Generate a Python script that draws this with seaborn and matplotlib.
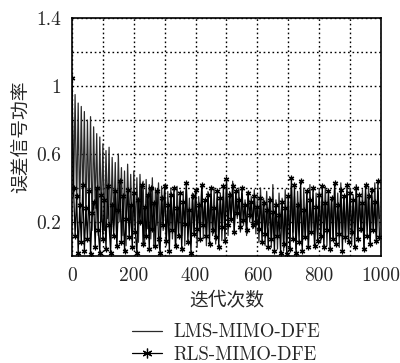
import numpy as np
import pandas as pd
import matplotlib
matplotlib.use('Agg')
import matplotlib.pyplot as plt
import seaborn as sns

sns.set_style('ticks')
plt.rcParams['font.family'] = ['cmr10', 'Noto Sans CJK SC']
plt.rcParams['axes.unicode_minus'] = False

# iterations (every 5th sample)
iters = list(range(0, 1000, 5))

# error signal power, LMS-MIMO-DFE
lms = [
    0.98, 0.35, 0.95, 0.28, 0.90, 0.22, 0.88, 0.30, 0.85, 0.18, 0.80, 0.25, 0.82, 0.15, 0.76, 0.28, 0.72, 0.12, 0.70, 0.20,
    0.66, 0.15, 0.62, 0.22, 0.64, 0.10, 0.58, 0.18, 0.55, 0.08, 0.60, 0.20, 0.52, 0.12, 0.50, 0.06, 0.54, 0.18, 0.48, 0.10,
    0.50, 0.14, 0.46, 0.08, 0.48, 0.20, 0.44, 0.06, 0.45, 0.16, 0.42, 0.10, 0.46, 0.05, 0.40, 0.18, 0.43, 0.08, 0.41, 0.15,
    0.42, 0.06, 0.38, 0.18, 0.40, 0.10, 0.36, 0.05, 0.41, 0.20, 0.35, 0.12, 0.38, 0.06, 0.40, 0.16, 0.34, 0.08, 0.37, 0.14,
    0.39, 0.05, 0.35, 0.17, 0.42, 0.10, 0.33, 0.06, 0.38, 0.20, 0.36, 0.12, 0.40, 0.07, 0.34, 0.18, 0.37, 0.09, 0.35, 0.15,
    0.41, 0.12, 0.38, 0.20, 0.44, 0.15, 0.36, 0.22, 0.40, 0.14, 0.37, 0.18, 0.33, 0.12, 0.38, 0.20, 0.35, 0.16, 0.39, 0.13,
    0.36, 0.08, 0.40, 0.15, 0.34, 0.06, 0.38, 0.18, 0.35, 0.05, 0.42, 0.12, 0.33, 0.04, 0.37, 0.16, 0.34, 0.03, 0.39, 0.10,
    0.36, 0.05, 0.41, 0.14, 0.35, 0.04, 0.38, 0.17, 0.33, 0.06, 0.40, 0.10, 0.36, 0.05, 0.42, 0.15, 0.34, 0.07, 0.37, 0.12,
    0.39, 0.08, 0.35, 0.16, 0.41, 0.06, 0.36, 0.18, 0.33, 0.09, 0.40, 0.12, 0.37, 0.05, 0.43, 0.16, 0.35, 0.08, 0.38, 0.13,
    0.40, 0.06, 0.36, 0.17, 0.42, 0.09, 0.34, 0.14, 0.39, 0.05, 0.37, 0.18, 0.41, 0.08, 0.35, 0.15, 0.43, 0.10, 0.38, 0.22,
]

# error signal power, RLS-MIMO-DFE
rls = [
    1.05, 0.40, 0.12, 0.35, 0.02, 0.30, 0.08, 0.42, 0.03, 0.28, 0.10, 0.38, 0.01, 0.25, 0.32, 0.05, 0.40, 0.15, 0.02, 0.36,
    0.10, 0.33, 0.04, 0.41, 0.18, 0.02, 0.30, 0.12, 0.38, 0.06, 0.27, 0.44, 0.08, 0.35, 0.03, 0.22, 0.39, 0.11, 0.30, 0.05,
    0.37, 0.14, 0.02, 0.33, 0.20, 0.42, 0.07, 0.29, 0.12, 0.36, 0.04, 0.40, 0.16, 0.31, 0.06, 0.38, 0.10, 0.02, 0.34, 0.18,
    0.41, 0.09, 0.30, 0.03, 0.36, 0.15, 0.40, 0.06, 0.28, 0.12, 0.37, 0.04, 0.32, 0.19, 0.43, 0.08, 0.27, 0.02, 0.35, 0.13,
    0.39, 0.16, 0.30, 0.10, 0.42, 0.18, 0.33, 0.12, 0.36, 0.07, 0.40, 0.15, 0.28, 0.11, 0.38, 0.05, 0.34, 0.17, 0.41, 0.09,
    0.45, 0.18, 0.36, 0.22, 0.41, 0.14, 0.38, 0.25, 0.33, 0.17, 0.40, 0.21, 0.30, 0.15, 0.37, 0.24, 0.32, 0.18, 0.35, 0.20,
    0.29, 0.16, 0.34, 0.08, 0.31, 0.13, 0.27, 0.05, 0.33, 0.10, 0.26, 0.03, 0.30, 0.12, 0.24, 0.02, 0.32, 0.07, 0.28, 0.01,
    0.35, 0.04, 0.46, 0.10, 0.42, 0.02, 0.30, 0.08, 0.44, 0.03, 0.27, 0.11, 0.38, 0.05, 0.33, 0.14, 0.40, 0.06, 0.29, 0.09,
    0.36, 0.12, 0.41, 0.05, 0.31, 0.15, 0.38, 0.04, 0.34, 0.10, 0.43, 0.07, 0.30, 0.13, 0.39, 0.03, 0.35, 0.11, 0.42, 0.08,
    0.37, 0.14, 0.33, 0.05, 0.40, 0.10, 0.36, 0.16, 0.31, 0.04, 0.42, 0.12, 0.35, 0.07, 0.39, 0.15, 0.32, 0.09, 0.44, 0.11,
]

xticks = [0, 200, 400, 600, 800, 1000]
yticks = [0.2, 0.6, 1.0, 1.4]
ytick_labels = ['0.2', '0.6', '1', '1.4']

fig = plt.figure(figsize=(4.0, 3.63), dpi=100)
ax = fig.add_axes([0.18, 0.295, 0.7725, 0.655])

sns.lineplot(x=iters, y=lms, ax=ax, color='#2a2a2a', linewidth=0.9,
             estimator=None, label='LMS-MIMO-DFE')
# asterisk marker like the original
sns.lineplot(x=iters, y=rls, ax=ax, color='black', linewidth=0.9,
             marker=(6, 2, 0), markersize=4, markeredgewidth=0.9,
             markeredgecolor='black', estimator=None, label='RLS-MIMO-DFE')

ax.set_xlim(0, 1000)
ax.set_ylim(0, 1.4)
ax.set_xticks(xticks)
ax.set_xticks(range(0, 1001, 100), minor=True)
ax.set_yticks(yticks)
ax.set_yticklabels(ytick_labels)
ax.set_yticks([0.4, 0.8, 1.2], minor=True)
ax.grid(True, which='both', linestyle=(0, (1.2, 2.0)), color='black', linewidth=1.0)
ax.tick_params(which='both', direction='in', length=0, labelsize=14, pad=8)
for s in ax.spines.values():
    s.set_color('black')
    s.set_linewidth(1.2)

ax.set_xlabel('迭代次数', fontsize=13.5, labelpad=5)
ax.set_ylabel('误差信号功率', fontsize=13.5, labelpad=4)

ax.legend_.remove()
h, l = ax.get_legend_handles_labels()
leg = fig.legend(h, l, loc='upper center', bbox_to_anchor=(0.565, 0.135), frameon=False,
                 fontsize=13.5, handlelength=1.6, handletextpad=0.6, labelspacing=0.25, borderpad=0)
for line in leg.get_lines():
    line.set_markersize(7)

fig.savefig('out.png', dpi=100)
